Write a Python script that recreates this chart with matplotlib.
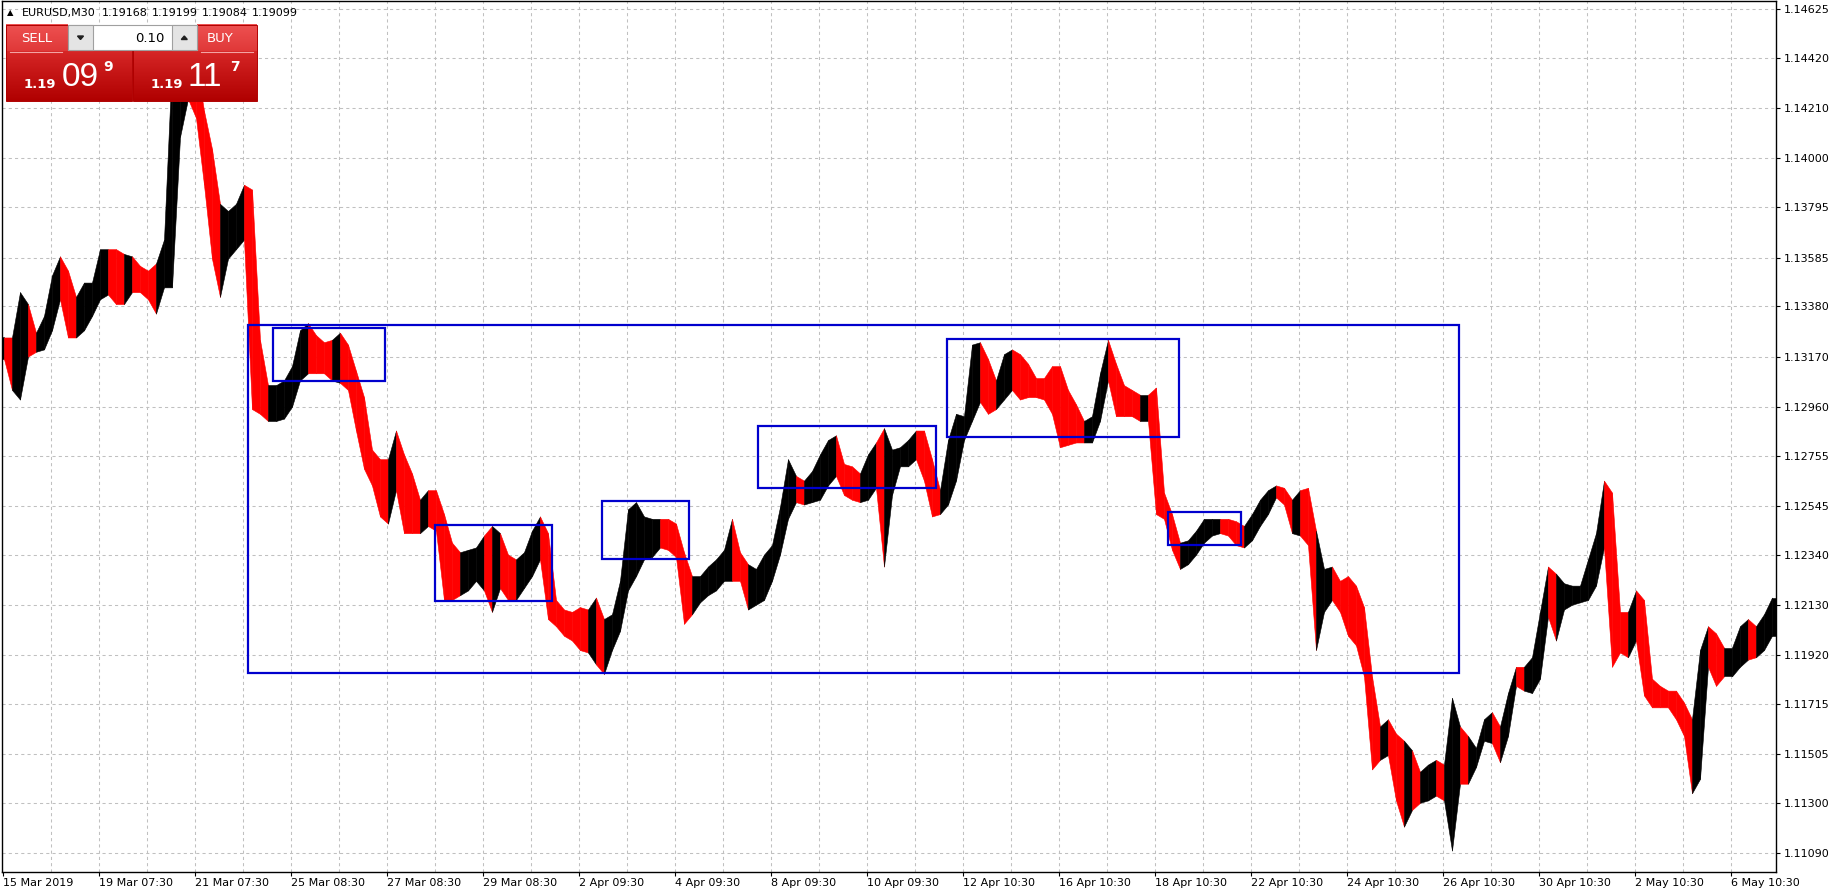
import numpy as np
import matplotlib
matplotlib.use('Agg')
import matplotlib.pyplot as plt
from matplotlib.patches import Rectangle, Polygon

# ---------------- data (EURUSD, 4-hour high/low buckets) -------------
highs = [
    1.1325, 1.1325, 1.1344, 1.1339, 1.1327, 1.1334, 1.1351, 1.1359, 1.1353, 1.1342,
    1.1348, 1.1348, 1.1362, 1.1362, 1.1362, 1.1360, 1.1359, 1.1355, 1.1353, 1.1356,
    1.1366, 1.1441, 1.1448, 1.1448, 1.1441, 1.1420, 1.1404, 1.1381, 1.1378, 1.1381,
    1.1389, 1.1387, 1.1324, 1.1305, 1.1305, 1.1307, 1.1313, 1.1328, 1.1331, 1.1326,
    1.1323, 1.1324, 1.1327, 1.1322, 1.1311, 1.1300, 1.1278, 1.1274, 1.1274, 1.1286,
    1.1276, 1.1268, 1.1257, 1.1261, 1.1261, 1.1251, 1.1239, 1.1235, 1.1236, 1.1237,
    1.1242, 1.1246, 1.1243, 1.1234, 1.1232, 1.1235, 1.1244, 1.1250, 1.1243, 1.1215,
    1.1211, 1.1210, 1.1212, 1.1211, 1.1216, 1.1207, 1.1209, 1.1223, 1.1253, 1.1256,
    1.1250, 1.1249, 1.1249, 1.1249, 1.1247, 1.1235, 1.1225, 1.1225, 1.1229, 1.1232,
    1.1236, 1.1249, 1.1235, 1.1230, 1.1228, 1.1234, 1.1238, 1.1254, 1.1274, 1.1267,
    1.1265, 1.1269, 1.1276, 1.1282, 1.1284, 1.1272, 1.1271, 1.1268, 1.1276, 1.1281,
    1.1287, 1.1278, 1.1279, 1.1282, 1.1286, 1.1286, 1.1274, 1.1261, 1.1282, 1.1293,
    1.1292, 1.1322, 1.1323, 1.1316, 1.1307, 1.1318, 1.1320, 1.1318, 1.1314, 1.1308,
    1.1308, 1.1313, 1.1313, 1.1303, 1.1297, 1.1290, 1.1292, 1.1310, 1.1324, 1.1314,
    1.1305, 1.1303, 1.1301, 1.1301, 1.1304, 1.1260, 1.1251, 1.1239, 1.1240, 1.1244,
    1.1249, 1.1249, 1.1249, 1.1249, 1.1248, 1.1246, 1.1251, 1.1257, 1.1261, 1.1263,
    1.1262, 1.1257, 1.1261, 1.1262, 1.1244, 1.1228, 1.1229, 1.1223, 1.1225, 1.1221,
    1.1212, 1.1183, 1.1162, 1.1165, 1.1159, 1.1156, 1.1152, 1.1143, 1.1146, 1.1148,
    1.1146, 1.1174, 1.1162, 1.1158, 1.1153, 1.1165, 1.1168, 1.1162, 1.1176, 1.1187,
    1.1187, 1.1191, 1.1210, 1.1229, 1.1226, 1.1222, 1.1221, 1.1221, 1.1232, 1.1243,
    1.1265, 1.1260, 1.1210, 1.1210, 1.1219, 1.1215, 1.1182, 1.1179, 1.1177, 1.1177,
    1.1172, 1.1165, 1.1194, 1.1204, 1.1201, 1.1195, 1.1195, 1.1204, 1.1207, 1.1204,
    1.1209, 1.1216]

lows = [
    1.1316, 1.1303, 1.1299, 1.1317, 1.1319, 1.1320, 1.1328, 1.1341, 1.1325, 1.1325,
    1.1328, 1.1334, 1.1341, 1.1343, 1.1339, 1.1339, 1.1344, 1.1344, 1.1341, 1.1335,
    1.1346, 1.1346, 1.1409, 1.1425, 1.1417, 1.1389, 1.1358, 1.1342, 1.1358, 1.1362,
    1.1366, 1.1295, 1.1293, 1.1290, 1.1290, 1.1291, 1.1296, 1.1307, 1.1310, 1.1310,
    1.1310, 1.1307, 1.1306, 1.1303, 1.1286, 1.1270, 1.1263, 1.1250, 1.1247, 1.1261,
    1.1243, 1.1243, 1.1243, 1.1246, 1.1244, 1.1215, 1.1215, 1.1217, 1.1219, 1.1223,
    1.1219, 1.1210, 1.1220, 1.1215, 1.1215, 1.1220, 1.1225, 1.1232, 1.1207, 1.1204,
    1.1200, 1.1198, 1.1194, 1.1193, 1.1188, 1.1184, 1.1194, 1.1202, 1.1219, 1.1225,
    1.1232, 1.1233, 1.1237, 1.1236, 1.1233, 1.1205, 1.1209, 1.1214, 1.1217, 1.1219,
    1.1223, 1.1223, 1.1223, 1.1211, 1.1213, 1.1215, 1.1223, 1.1234, 1.1249, 1.1256,
    1.1255, 1.1256, 1.1257, 1.1263, 1.1267, 1.1259, 1.1257, 1.1256, 1.1257, 1.1262,
    1.1229, 1.1259, 1.1271, 1.1271, 1.1274, 1.1265, 1.1250, 1.1251, 1.1255, 1.1265,
    1.1282, 1.1290, 1.1298, 1.1293, 1.1295, 1.1299, 1.1303, 1.1299, 1.1300, 1.1300,
    1.1299, 1.1293, 1.1279, 1.1280, 1.1281, 1.1281, 1.1281, 1.1290, 1.1307, 1.1292,
    1.1292, 1.1292, 1.1290, 1.1290, 1.1251, 1.1249, 1.1236, 1.1228, 1.1230, 1.1234,
    1.1239, 1.1242, 1.1243, 1.1242, 1.1238, 1.1237, 1.1240, 1.1246, 1.1251, 1.1258,
    1.1255, 1.1243, 1.1242, 1.1238, 1.1194, 1.1210, 1.1215, 1.1210, 1.1200, 1.1196,
    1.1183, 1.1144, 1.1148, 1.1150, 1.1131, 1.1120, 1.1127, 1.1130, 1.1131, 1.1133,
    1.1131, 1.1110, 1.1138, 1.1138, 1.1145, 1.1156, 1.1155, 1.1147, 1.1158, 1.1179,
    1.1177, 1.1176, 1.1182, 1.1208, 1.1198, 1.1211, 1.1213, 1.1214, 1.1215, 1.1221,
    1.1237, 1.1187, 1.1193, 1.1191, 1.1198, 1.1175, 1.1170, 1.1170, 1.1170, 1.1165,
    1.1158, 1.1134, 1.1140, 1.1187, 1.1179, 1.1183, 1.1183, 1.1187, 1.1190, 1.1191,
    1.1194, 1.1200]

xtick_labels = ['15 Mar 2019', '19 Mar 07:30', '21 Mar 07:30', '25 Mar 08:30', '27 Mar 08:30',
                '29 Mar 08:30', '2 Apr 09:30', '4 Apr 09:30', '8 Apr 09:30', '10 Apr 09:30',
                '12 Apr 10:30', '16 Apr 10:30', '18 Apr 10:30', '22 Apr 10:30', '24 Apr 10:30',
                '26 Apr 10:30', '30 Apr 10:30', '2 May 10:30', '6 May 10:30']
ytick_values = [1.14625, 1.14420, 1.14210, 1.14000, 1.13795, 1.13585, 1.13380, 1.13170,
                1.12960, 1.12755, 1.12545, 1.12340, 1.12130, 1.11920, 1.11715, 1.11505,
                1.11300, 1.11090]

# drawn boxes (in bucket index / price)
box_x0 = [31.06, 34.09, 54.375, 75.29, 94.79, 118.375, 146.0]
box_x1 = [182.375, 48.09, 69.0, 86.17, 117.04, 147.375, 155.125]
box_top = [1.13302, 1.13291, 1.12464, 1.12565, 1.12879, 1.13244, 1.12517]
box_bot = [1.11846, 1.13066, 1.12146, 1.12322, 1.12621, 1.12834, 1.12380]

title_parts = ['EURUSD,M30', '1.19168', '1.19199', '1.19084', '1.19099']

# ---------------- figure -------------------------------------------------------------
W, H = 1840, 896
fig = plt.figure(figsize=(W / 100, H / 100), dpi=100)
fig.patch.set_facecolor('white')
ax = fig.add_axes([2 / W, (H - 872) / H, (1776 - 2) / W, (872 - 1) / H])

n = len(highs)
hi = np.array(highs)
lo = np.array(lows)
mid = (hi + lo) / 2
xc = np.arange(n) + 0.5
colors = ['#000000'] + ['#000000' if mid[i] >= mid[i - 1] else '#ff0000' for i in range(1, n)]

# price band: each bucket joined to the next, coloured by direction
ax.fill_between(xc[:1] + np.array([-0.5, 0.0]), [lo[0], lo[0]], [hi[0], hi[0]],
                color=colors[0], linewidth=0.4, zorder=2)
for i in range(1, n):
    ax.fill_between(xc[i - 1:i + 1], lo[i - 1:i + 1], hi[i - 1:i + 1],
                    color=colors[i], linewidth=0.4, edgecolor=colors[i], zorder=2)
ax.fill_between(xc[-1:] + np.array([0.0, 0.5]), [lo[-1], lo[-1]], [hi[-1], hi[-1]],
                color=colors[-1], linewidth=0.4, zorder=2)

ax.set_xlim(0.25, 222.0)
ax.set_ylim(1.11010, 1.14660)

# grid
grid_kw = dict(color='#c0c0c0', linewidth=0.75, linestyle=(0, (3, 3)), zorder=0)
for v in ytick_values:
    ax.axhline(v, **grid_kw)
for j in range(1, 37):
    ax.axvline(0.375 + 6 * j, **grid_kw)

# boxes
for x0, x1, t, b in zip(box_x0, box_x1, box_top, box_bot):
    ax.add_patch(Rectangle((x0, b), x1 - x0, t - b, fill=False, edgecolor='#0000cd',
                           linewidth=1.6, zorder=3))

# axes / ticks
xt = [0.375 + 12 * j for j in range(len(xtick_labels))]
ax.set_xticks(xt)
ax.set_xticklabels(xtick_labels)
for lbl in ax.get_xticklabels():
    lbl.set_horizontalalignment('left')
ax.yaxis.tick_right()
ax.set_yticks(ytick_values)
ax.set_yticklabels([f'{v:.5f}' for v in ytick_values])
ax.tick_params(axis='x', length=3, width=0.8, pad=1.5, labelsize=8, colors='black')
ax.tick_params(axis='y', length=3, width=0.8, pad=2.5, labelsize=8, colors='black')
for s in ax.spines.values():
    s.set_color('black')
    s.set_linewidth(1.0)

# ---------------- overlay: title + one-click trading panel ----------------------------
ov = fig.add_axes([0, 0, 1, 1], zorder=10)
ov.patch.set_visible(False)
ov.set_axis_off()


def grad(x0, x1, y0, y1, c_top, c_bot):
    c_top = np.array(c_top) / 255.0
    c_bot = np.array(c_bot) / 255.0
    t = np.linspace(0, 1, 64)[:, None, None]
    arr = c_top * (1 - t) + c_bot * t
    ov.imshow(arr, extent=(x0, x1, y1, y0), origin='upper', aspect='auto',
              interpolation='bilinear', zorder=1)


# title row
ov.text(7, 13, '\u25b2', fontsize=6, va='center', ha='left', color='black')
for xp, s in zip([21.7, 101.7, 151.7, 201.7, 251.7], title_parts):
    ov.text(xp, 13, s, fontsize=8, va='center', ha='left', color='black')

# headers
grad(6, 68, 25, 51.5, (238, 82, 82), (224, 56, 56))
grad(196.7, 256.7, 25, 51.5, (238, 82, 82), (224, 56, 56))
# lower price blocks
grad(6, 131.7, 51.5, 100.7, (214, 38, 38), (176, 0, 0))
grad(133.3, 256.7, 51.5, 100.7, (214, 38, 38), (176, 0, 0))
ov.plot([10, 61.7], [51.7, 51.7], color='#f3a3a3', lw=0.8, zorder=2)
ov.plot([201, 252.7], [51.7, 51.7], color='#f3a3a3', lw=0.8, zorder=2)
for (x0, x1) in [(6, 131.7), (133.3, 256.7)]:
    ov.add_patch(Rectangle((x0, 25), x1 - x0, 75.7, fill=False, edgecolor='#b00000',
                           linewidth=0.7, zorder=3))

# lot box
ov.add_patch(Rectangle((68, 25), 128.7, 25.5, facecolor='white', edgecolor='#a0a0a0',
                       linewidth=0.8, zorder=4))
ov.add_patch(Rectangle((68, 25), 24.7, 25.5, facecolor='#e4e4e4', edgecolor='#a0a0a0',
                       linewidth=0.8, zorder=5))
ov.add_patch(Rectangle((172, 25), 24.7, 25.5, facecolor='#e4e4e4', edgecolor='#a0a0a0',
                       linewidth=0.8, zorder=5))
ov.add_patch(Polygon([[77.5, 36], [83.5, 36], [80.5, 39.5]], closed=True, color='#202020', zorder=6))
ov.add_patch(Polygon([[181.3, 39.5], [187.3, 39.5], [184.3, 36]], closed=True, color='#202020', zorder=6))
ov.text(165, 38.3, '0.10', fontsize=9.5, va='center', ha='right', color='black', zorder=6)

ov.text(36.7, 38.3, 'SELL', fontsize=9.5, va='center', ha='center', color='white', zorder=6)
ov.text(220, 38.3, 'BUY', fontsize=9.5, va='center', ha='center', color='white', zorder=6)

ov.text(40, 85, '1.19', fontsize=9.5, fontweight='bold', va='center', ha='center', color='white', zorder=6)
ov.text(80, 77, '09', fontsize=24, family='Liberation Sans', va='center', ha='center', color='white', zorder=6)
ov.text(108, 67, '9', fontsize=10, fontweight='bold', va='center', ha='center', color='white', zorder=6)
ov.text(166.7, 85, '1.19', fontsize=9.5, fontweight='bold', va='center', ha='center', color='white', zorder=6)
ov.text(205, 77, '11', fontsize=24, family='Liberation Sans', va='center', ha='center', color='white', zorder=6)
ov.text(235, 67, '7', fontsize=10, fontweight='bold', va='center', ha='center', color='white', zorder=6)

ov.set_xlim(0, W)
ov.set_ylim(H, 0)

fig.savefig('out.png', dpi=100, facecolor='white')
